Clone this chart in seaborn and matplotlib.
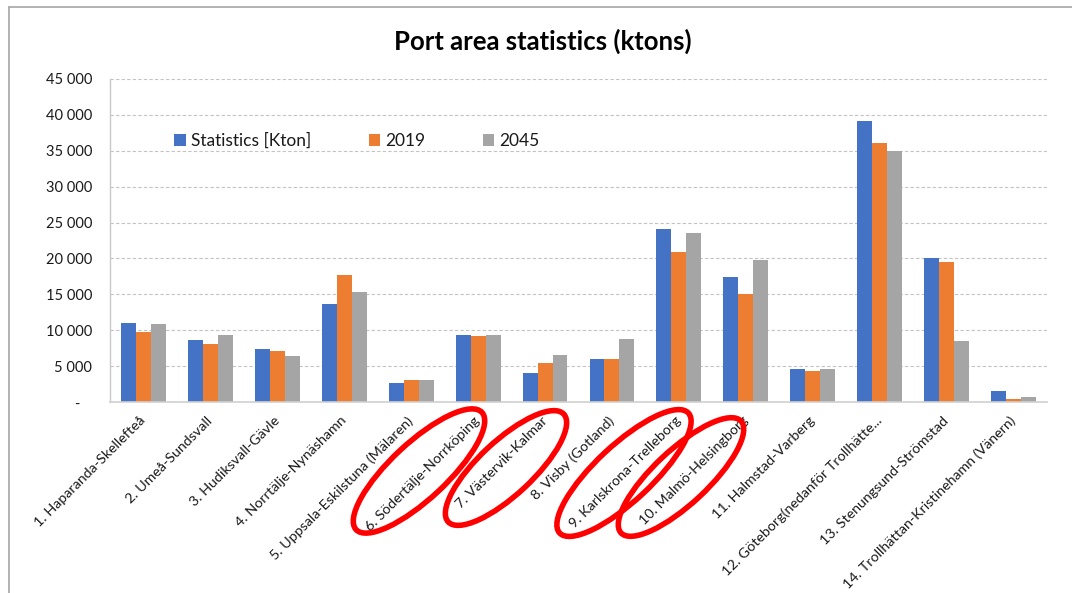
import matplotlib
matplotlib.use("Agg")
import matplotlib.pyplot as plt
from matplotlib.patches import Ellipse
from matplotlib.lines import Line2D
from matplotlib.ticker import FuncFormatter, MultipleLocator
import seaborn as sns
import pandas as pd

# Port areas and freight volumes (ktons)
areas = [
    "1. Haparanda-Skellefteå",
    "2. Umeå-Sundsvall",
    "3. Hudiksvall-Gävle",
    "4. Norrtälje-Nynäshamn",
    "5. Uppsala-Eskilstuna (Mälaren)",
    "6. Södertälje-Norrköping",
    "7. Västervik-Kalmar",
    "8. Visby (Gotland)",
    "9. Karlskrona-Trelleborg",
    "10. Malmö-Helsingborg",
    "11. Halmstad-Varberg",
    "12. Göteborg(nedanför Trollhätte...",
    "13. Stenungsund-Strömstad",
    "14. Trollhättan-Kristinehamn (Vänern)",
]
statistics_kton = [11000, 8700, 7450, 13600, 2650, 9300, 4050, 6000, 24150, 17400, 4650, 39100, 20100, 1600]
values_2019 = [9750, 8100, 7050, 17750, 3100, 9200, 5500, 6000, 20950, 15050, 4300, 36100, 19550, 380]
values_2045 = [10850, 9400, 6350, 15300, 3100, 9300, 6550, 8750, 23500, 19800, 4650, 34950, 8550, 650]
series_names = ["Statistics [Kton]", "2019", "2045"]
series_colors = ["#4472C4", "#ED7D31", "#A5A5A5"]

frames = []
for name, vals in zip(series_names, [statistics_kton, values_2019, values_2045]):
    frames.append(pd.DataFrame({"area": areas, "value": vals, "series": name}))
df = pd.concat(frames, ignore_index=True)

sns.set_theme(style="white")
plt.rcParams["font.family"] = ["Lato", "DejaVu Sans"]

W, H = 1072, 593
fig = plt.figure(figsize=(W / 100, H / 100), dpi=100)
ax = fig.add_axes([110 / W, 1 - 402 / H, (1047 - 110) / W, (402 - 79) / H])

sns.barplot(
    data=df, x="area", y="value", hue="series", hue_order=series_names,
    palette=series_colors, order=areas, width=0.67, linewidth=0,
    saturation=1, ax=ax,
)

ax.set_ylim(0, 45000)
ax.set_xlim(-0.5, len(areas) - 0.5)
ax.yaxis.set_major_locator(MultipleLocator(5000))
ax.yaxis.set_major_formatter(
    FuncFormatter(lambda v, p: "-   " if v == 0 else f"{int(v):,}".replace(",", " "))
)
ax.grid(axis="y", linestyle=(0, (3, 2)), color="#c3c3c3", linewidth=0.8)
ax.set_axisbelow(True)
for side in ["top", "right"]:
    ax.spines[side].set_visible(False)
ax.spines["left"].set_color("#c8c8c8")
ax.spines["bottom"].set_color("#d0d0d0")
ax.spines["left"].set_linewidth(1.0)
ax.spines["bottom"].set_linewidth(1.2)
ax.set_xlabel("")
ax.set_ylabel("")
ax.tick_params(axis="y", length=0, pad=13, labelsize=10.5, labelcolor="#1a1a1a")
ax.tick_params(axis="x", length=0, pad=12, labelsize=10.3, labelcolor="#1a1a1a")
for lab in ax.get_xticklabels():
    lab.set_rotation(45)
    lab.set_ha("right")
    lab.set_va("center")
    lab.set_rotation_mode("anchor")

ax.legend(
    loc="center", bbox_to_anchor=(357 / W, 1 - 141 / H), bbox_transform=fig.transFigure,
    ncol=3, frameon=False, fontsize=12.5, handlelength=0.66, handleheight=0.66,
    handletextpad=0.3, columnspacing=3.3, labelcolor="#1a1a1a",
)

fig.text(543 / W, 1 - 41 / H, "Port area statistics (ktons)", ha="center", va="center",
         fontsize=18.5, fontweight="bold", color="#000000")

# Outer frame (top and left edges)
fig.add_artist(Line2D([9 / W, 9 / W], [0, 1 - 7 / H], transform=fig.transFigure,
                      color="#a6a6a6", linewidth=1.2))
fig.add_artist(Line2D([9 / W, 1], [1 - 7 / H, 1 - 7 / H], transform=fig.transFigure,
                      color="#a6a6a6", linewidth=1.2))

# Red highlight rings around selected port areas (centre px, major, minor, angle)
rings = [
    ((419, 471), 172, 56, 43),
    ((506, 468), 158, 54, 43),
    ((624, 473), 176, 56, 43),
    ((681, 477), 164, 54, 43),
]
for (cx, cy), major, minor, ang in rings:
    fig.add_artist(Ellipse((cx / 100, (H - cy) / 100), major / 100, minor / 100, angle=ang,
                           transform=fig.dpi_scale_trans, fill=False,
                           edgecolor="#ff0000", linewidth=4.0))

fig.savefig("out.png", dpi=100)
